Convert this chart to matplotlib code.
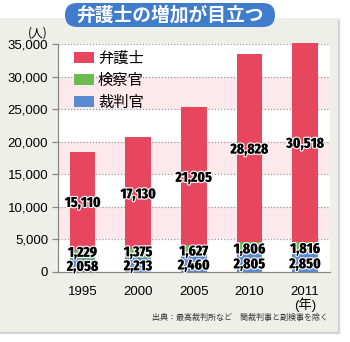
import matplotlib
matplotlib.use("Agg")
import matplotlib.pyplot as plt
import matplotlib.patheffects as pe
from matplotlib.patches import FancyBboxPatch, Rectangle
from matplotlib import font_manager as fm
import numpy as np

plt.rcParams['font.family'] = ['Noto Sans CJK JP', 'DejaVu Sans']

years = ['1995', '2000', '2005', '2010', '2011\n(年)']
judges = [2058, 2213, 2460, 2805, 2850]          # 裁判官
prosecutors = [1229, 1375, 1627, 1806, 1816]     # 検察官
lawyers = [15110, 17130, 21205, 28828, 30518]    # 弁護士
yticks = [0, 5000, 10000, 15000, 20000, 25000, 30000, 35000]
series_names = ['弁護士', '検察官', '裁判官']

c_red = '#e6475f'
c_green = '#6cbb52'
c_blue = '#5b8ad3'


def pick_condensed_bold():
    best = None
    best_score = -1
    for f in fm.fontManager.ttflist:
        key = (f.name + ' ' + f.fname).lower()
        cond = ('condensed' in key or 'narrow' in key or
                str(f.stretch) in ('condensed', 'semi-condensed', 'extra-condensed',
                                   'ultra-condensed'))
        if not cond or 'oblique' in key or 'italic' in key:
            continue
        score = 1
        if 'bold' in key or 'black' in key or 'heavy' in key:
            score += 2
        if 'black' in key or 'extrabold' in key:
            score += 1
        if 'extracondensed' in key.replace('-', '').replace(' ', ''):
            score += 1
        if score > best_score:
            best, best_score = f, score
    return best


cf = pick_condensed_bold()
if cf is not None:
    num_prop = fm.FontProperties(fname=cf.fname, size=10.5)
else:
    num_prop = fm.FontProperties(family='DejaVu Sans', weight='bold', size=7.5)

W, H = 350, 342
fig = plt.figure(figsize=(W / 100, H / 100), dpi=100)
fig.patch.set_facecolor('white')

# card with shadow
for i, a in enumerate([0.05, 0.07, 0.09]):
    fig.patches.append(Rectangle((0, 1 - (335 - i) / H), (341 - i) / W, (335 - 20) / H,
                                 transform=fig.transFigure, facecolor='#000000', alpha=a,
                                 edgecolor='none', zorder=-3 + i * 0.1))
fig.patches.append(Rectangle((0, 1 - 332 / H), 338 / W, (332 - 18) / H,
                             transform=fig.transFigure, facecolor='#efefe9',
                             edgecolor='none', zorder=-2))

# title banner
fig.patches.append(FancyBboxPatch((65 / W, 1 - 27 / H), (275 - 65) / W, 24 / H,
                                  boxstyle='round,pad=0,rounding_size=0.035',
                                  transform=fig.transFigure, facecolor='#3f7ccb',
                                  edgecolor='none', zorder=5))
fig.text(170 / W, 1 - 15 / H, '弁護士の増加が目立つ', color='white', fontsize=13.5,
         fontweight='bold', ha='center', va='center', zorder=6)

ax = fig.add_axes([58 / W, 1 - 272 / H, (330 - 58) / W, (272 - 44) / H])
ax.set_zorder(1)
ax.set_facecolor('white')
ax.set_ylim(0, 35000)
ax.set_xlim(-0.44, 4.45)
for lo in (5000, 15000, 25000):
    ax.axhspan(lo, lo + 5000, color='#fde9eb', zorder=0, lw=0)
for yv in yticks[1:]:
    ax.axhline(yv, color='#999999', lw=0.9, ls=(0, (1, 1.5)), zorder=0.5)

x = np.arange(len(years))
bw = 0.46
b1 = ax.bar(x, judges, bw, color=c_blue, zorder=2, clip_on=False)
bottom2 = np.array(judges)
b2 = ax.bar(x, prosecutors, bw, bottom=bottom2, color=c_green, zorder=2, clip_on=False)
bottom3 = bottom2 + np.array(prosecutors)
b3 = ax.bar(x, lawyers, bw, bottom=bottom3, color=c_red, zorder=2, clip_on=False)

num_font = dict(fontproperties=num_prop, color='black', ha='center', va='center_baseline',
                zorder=5)
stroke = [pe.withStroke(linewidth=1.6, foreground='white')]
for i in range(len(years)):
    yb = judges[i] / 2
    ax.text(x[i], yb, f'{judges[i]:,}', path_effects=stroke, **num_font)
    yg = max(bottom2[i] + prosecutors[i] / 2, yb + 2150)
    ax.text(x[i], yg, f'{prosecutors[i]:,}', path_effects=stroke, **num_font)
    ax.text(x[i], bottom3[i] + lawyers[i] / 2, f'{lawyers[i]:,}',
            path_effects=stroke, **num_font)

ax.set_xticks(x)
ax.set_xticklabels(years, fontsize=9.5, family=['Liberation Sans', 'Noto Sans CJK JP'],
                   linespacing=0.95)
ax.set_yticks(yticks)
ax.set_yticklabels([f'{v:,}' for v in yticks], fontsize=9.5, family=['Liberation Sans'])
ax.tick_params(axis='x', length=0, pad=10)
ax.tick_params(axis='y', length=4, color='#888888', width=0.9, direction='out', pad=3)
for s in ('top', 'right'):
    ax.spines[s].set_visible(False)
ax.spines['left'].set_color('#888888')
ax.spines['bottom'].set_color('#888888')
ax.spines['left'].set_linewidth(0.9)
ax.spines['bottom'].set_linewidth(0.9)

fig.text(38 / W, 1 - 33 / H, '(人)', fontsize=8.5, ha='center', va='center')

leg = ax.legend([b3, b2, b1], series_names, loc='upper left',
                bbox_to_anchor=(0.035, 1.0), frameon=False, fontsize=11,
                handlelength=1.35, handleheight=0.72, handletextpad=0.25,
                labelspacing=0.33, borderaxespad=0)

fig.text(328 / W, 1 - 317 / H, '出典：最高裁判所など　簡裁判事と副検事を除く',
         fontsize=5.8, ha='right', va='center', color='#333333')

fig.savefig('out.png', dpi=100, facecolor=fig.get_facecolor())
